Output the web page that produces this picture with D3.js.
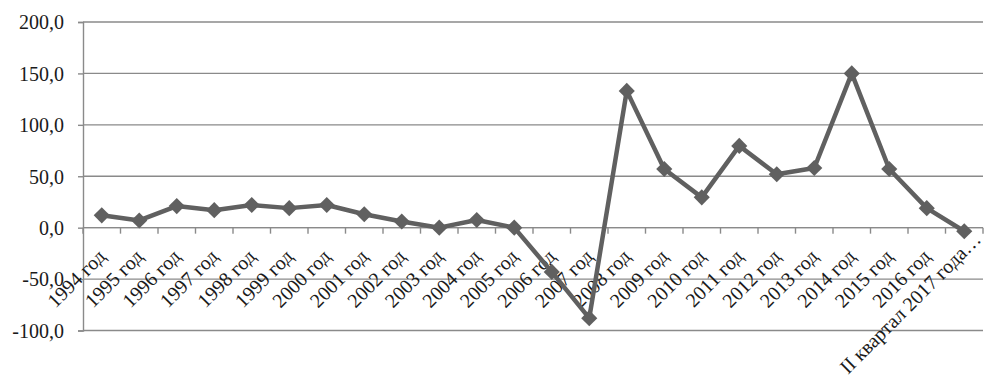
<!DOCTYPE html>
<html>
<head>
<meta charset="utf-8">
<script src="https://cdn.jsdelivr.net/npm/d3@7"></script>
<style>
  html, body { margin: 0; padding: 0; background: #fff; }
  svg { display: block; }
  text { font-family: "Liberation Serif", "Times New Roman", serif; fill: #1a1a1a; }
</style>
</head>
<body>
<svg id="chart" width="1003" height="385"></svg>
<script>
const categories = [
  "1994 год", "1995 год", "1996 год", "1997 год", "1998 год", "1999 год",
  "2000 год", "2001 год", "2002 год", "2003 год", "2004 год", "2005 год",
  "2006 год", "2007 год", "2008 год", "2009 год", "2010 год", "2011 год",
  "2012 год", "2013 год", "2014 год", "2015 год", "2016 год",
  "II квартал 2017 года…"
];
const values = [
  12, 7, 21, 17, 22, 19,
  22, 13, 6, 0, 7.5, 0,
  -43, -88, 133, 57, 29.5, 79.5,
  52, 58, 150, 57, 19, -3.5
];
const yTicks = [-100, -50, 0, 50, 100, 150, 200];
const yTickLabels = ["-100,0", "-50,0", "0,0", "50,0", "100,0", "150,0", "200,0"];

(function () {
const svg = d3.select("#chart");
const mLeft = 83, mRight = 983, mTop = 22, mBottom = 330.5;

const x = d3.scaleBand().domain(categories).range([mLeft, mRight]).padding(0);
const y = d3.scaleLinear().domain([-100, 200]).range([mBottom, mTop]);

const gridColor = "#8a8a8a";

// horizontal gridlines
svg.append("g").selectAll("line").data(yTicks).join("line")
  .attr("x1", mLeft).attr("x2", mRight)
  .attr("y1", d => y(d)).attr("y2", d => y(d))
  .attr("stroke", gridColor).attr("stroke-width", 1.4);

// y axis
const yAxis = d3.axisLeft(y).tickValues(yTicks)
  .tickFormat((d, i) => yTickLabels[i]).tickSize(5).tickPadding(14);
const gy = svg.append("g").attr("transform", `translate(${mLeft},0)`).call(yAxis);
gy.select(".domain").attr("stroke", gridColor).attr("stroke-width", 1.4);
gy.selectAll(".tick line").attr("stroke", gridColor).attr("stroke-width", 1.4);
gy.selectAll(".tick text")
  .style("font-family", "'Liberation Serif', 'Times New Roman', serif")
  .style("font-size", "20px").attr("fill", "#1a1a1a").attr("dy", "0.34em");

// x axis along zero line with ticks at category boundaries
const y0 = y(0);
svg.append("line").attr("x1", mLeft).attr("x2", mRight)
  .attr("y1", y0).attr("y2", y0).attr("stroke", gridColor).attr("stroke-width", 1.4);
const bounds = categories.map(c => x(c)).concat([x.range()[1]]);
svg.append("g").selectAll("line").data(bounds).join("line")
  .attr("x1", d => d).attr("x2", d => d)
  .attr("y1", y0).attr("y2", y0 + 6)
  .attr("stroke", gridColor).attr("stroke-width", 1.4);

// x labels, rotated
const last = categories.length - 1;
svg.append("g").selectAll("text").data(categories).join("text")
  .attr("transform", (d, i) => {
    const cx = x(d) + x.bandwidth() / 2;
    const dx = i === last ? 18 : 5;
    const ty = i === last ? y0 + 13 : y0 + 30;
    return `translate(${cx + dx},${ty}) rotate(-45)`;
  })
  .attr("text-anchor", "end")
  .style("font-size", "20px")
  .text(d => d);

// line
const lineColor = "#606060";
const line = d3.line()
  .x((d, i) => x(categories[i]) + x.bandwidth() / 2)
  .y(d => y(d));
svg.append("path").datum(values)
  .attr("d", line).attr("fill", "none")
  .attr("stroke", lineColor).attr("stroke-width", 4.5)
  .attr("stroke-linejoin", "round");

// diamond markers
const sym = d3.symbol().type(d3.symbolSquare).size(130);
svg.append("g").selectAll("path").data(values).join("path")
  .attr("d", sym)
  .attr("transform", (d, i) =>
    `translate(${x(categories[i]) + x.bandwidth() / 2},${y(d)}) rotate(45)`)
  .attr("fill", lineColor);
})();
</script>
</body>
</html>
